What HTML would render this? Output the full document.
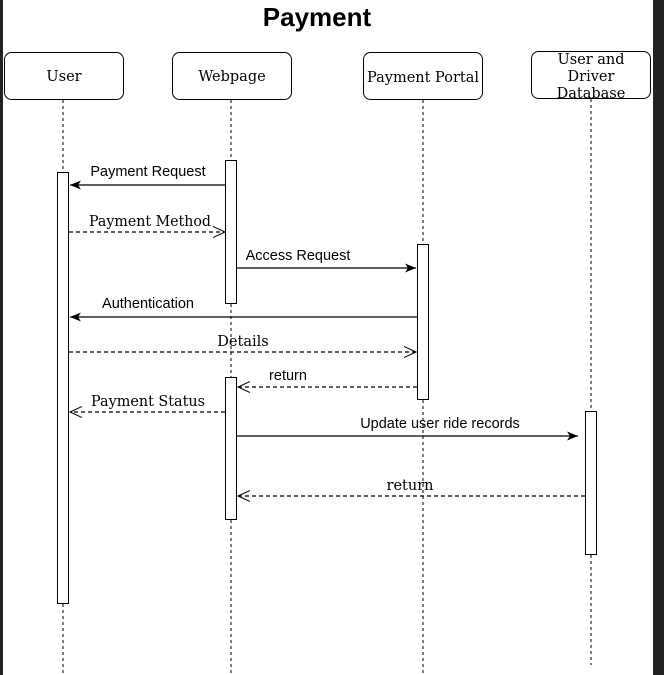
<!DOCTYPE html>
<html><head><style>
html,body{margin:0;padding:0;background:#fff;}
svg{display:block;}
.s{font-family:"Liberation Sans",sans-serif;font-size:14.5px;}
.f{font-family:"DejaVu Serif","Liberation Serif",serif;font-size:14.5px;}
</style></head><body>
<svg width="664" height="675" viewBox="0 0 664 675" xmlns="http://www.w3.org/2000/svg">
<defs>
<marker id="fa" markerWidth="12" markerHeight="12" refX="11" refY="6" orient="auto" markerUnits="userSpaceOnUse"><path d="M0,1.5 L11,6 L0,10.5 L3,6 Z" fill="#000"/></marker>
<marker id="oa" markerWidth="14" markerHeight="14" refX="12" refY="7" orient="auto" markerUnits="userSpaceOnUse"><path d="M0,1.5 L12,7 L0,12.5" fill="none" stroke="#000" stroke-width="1"/></marker>
</defs>
<rect x="0" y="0" width="664" height="675" fill="#fff"/>
<rect x="0" y="0" width="3" height="675" fill="#222"/>
<rect x="653" y="0" width="11" height="675" fill="#222"/>
<text x="317" y="26" text-anchor="middle" font-family="Liberation Sans,sans-serif" font-weight="bold" font-size="26">Payment</text>
<g stroke="#000" stroke-width="1" stroke-dasharray="3,3" fill="none">
<line x1="63" y1="100" x2="63" y2="673"/>
<line x1="231" y1="100" x2="231" y2="673"/>
<line x1="423" y1="100" x2="423" y2="673"/>
<line x1="591" y1="99" x2="591" y2="665"/>
</g>
<g fill="#fff" stroke="#000" stroke-width="1">
<rect x="4.5" y="52.5" width="119" height="47" rx="7"/>
<rect x="172.5" y="52.5" width="119" height="47" rx="7"/>
<rect x="363.5" y="52.5" width="119" height="47" rx="7"/>
<rect x="531.5" y="51.5" width="119" height="47" rx="7"/>
</g>
<g class="f" text-anchor="middle">
<text x="64" y="81">User</text>
<text x="232" y="81">Webpage</text>
<text x="423" y="82" textLength="112" lengthAdjust="spacingAndGlyphs">Payment Portal</text>
<text x="591" y="64">User and</text>
<text x="591" y="81">Driver</text>
<text x="591" y="98">Database</text>
</g>
<g fill="#fff" stroke="#000" stroke-width="1">
<rect x="57.5" y="172.5" width="11" height="431"/>
<rect x="225.5" y="160.5" width="11" height="143"/>
<rect x="225.5" y="377.5" width="11" height="142"/>
<rect x="417.5" y="244.5" width="11" height="155"/>
<rect x="585.5" y="411.5" width="11" height="143"/>
</g>
<g stroke="#000" stroke-width="1.2" fill="none">
<line x1="225" y1="185" x2="70" y2="185" marker-end="url(#fa)"/>
<line x1="69" y1="232" x2="225" y2="232" stroke-dasharray="4,3" marker-end="url(#oa)"/>
<line x1="237" y1="268" x2="416" y2="268" marker-end="url(#fa)"/>
<line x1="417" y1="317" x2="70" y2="317" marker-end="url(#fa)"/>
<line x1="69" y1="352" x2="416" y2="352" stroke-dasharray="4,3" marker-end="url(#oa)"/>
<line x1="417" y1="387" x2="238" y2="387" stroke-dasharray="4,3" marker-end="url(#oa)"/>
<line x1="225" y1="412" x2="70" y2="412" stroke-dasharray="4,3" marker-end="url(#oa)"/>
<line x1="237" y1="436" x2="578" y2="436" marker-end="url(#fa)"/>
<line x1="585" y1="496" x2="238" y2="496" stroke-dasharray="4,3" marker-end="url(#oa)"/>
</g>
<g class="s" text-anchor="middle">
<text x="148" y="176">Payment Request</text>
<text x="298" y="260">Access Request</text>
<text x="148" y="308">Authentication</text>
<text x="288" y="380">return</text>
<text x="440" y="428">Update user ride records</text>
</g>
<g class="f" text-anchor="middle">
<text x="150" y="226" textLength="122" lengthAdjust="spacingAndGlyphs">Payment Method</text>
<text x="243" y="346">Details</text>
<text x="148" y="406" textLength="114" lengthAdjust="spacingAndGlyphs">Payment Status</text>
<text x="410" y="490">return</text>
</g>
</svg>
</body></html>
